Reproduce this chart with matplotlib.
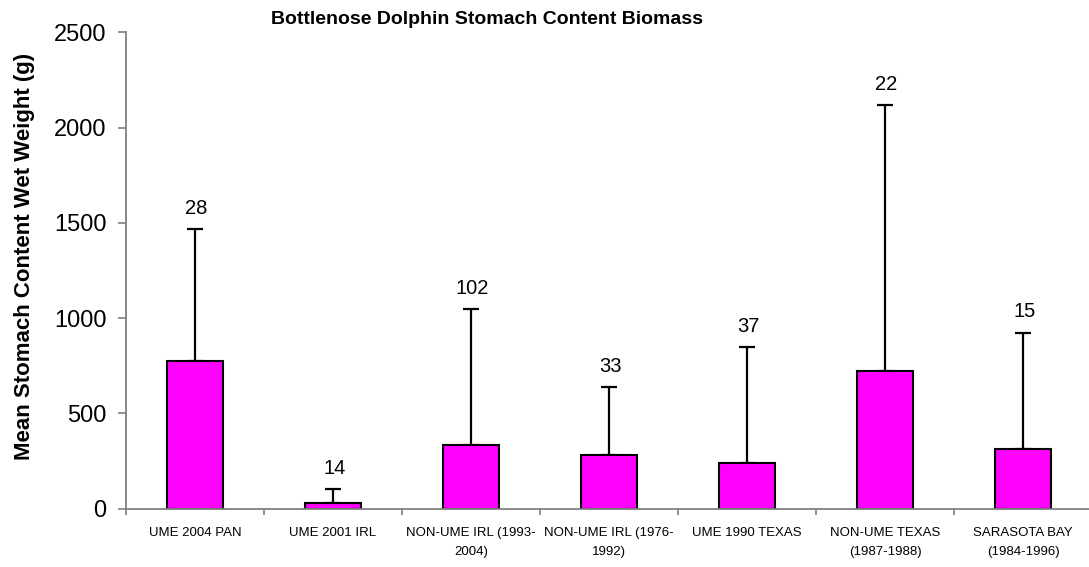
import matplotlib
matplotlib.use("Agg")
import matplotlib.pyplot as plt
import numpy as np

# Stomach content wet weight by dolphin group
categories = [
    "UME 2004 PAN",
    "UME 2001 IRL",
    "NON-UME IRL (1993-\n2004)",
    "NON-UME IRL (1976-\n1992)",
    "UME 1990 TEXAS",
    "NON-UME TEXAS\n(1987-1988)",
    "SARASOTA BAY\n(1984-1996)",
]
mean_weight = [774, 30, 335, 282, 240, 722, 312]
sd_weight = [693, 72, 712, 357, 609, 1398, 611]
sample_n = [28, 14, 102, 33, 37, 22, 15]
y_ticks = [0, 500, 1000, 1500, 2000, 2500]

plt.rcParams["font.family"] = ["Liberation Sans", "DejaVu Sans"]

W, H = 1089, 567
fig = plt.figure(figsize=(W / 100, H / 100), dpi=100)
ax = fig.add_axes([126 / W, 1 - 508.5 / H, 966 / W, 476 / H])

x = np.arange(len(categories))
ax.bar(x, mean_weight, width=0.41, color="#ff00ff", edgecolor="black",
       linewidth=1.5, zorder=2)
ax.errorbar(x, mean_weight, yerr=[np.zeros(len(x)), sd_weight], fmt="none",
            ecolor="black", elinewidth=1.6, capsize=5.5, capthick=1.6, zorder=1)

# sample size above each error bar
for xi, m, s, n in zip(x, mean_weight, sd_weight, sample_n):
    ax.annotate(str(n), (xi, m + s), xytext=(1, 15), textcoords="offset points",
                ha="center", va="center", fontsize=14.5)

ax.set_xlim(-0.5, len(categories) - 0.5)
ax.set_ylim(0, 2500)
ax.set_yticks(y_ticks)
ax.tick_params(axis="y", labelsize=17, length=6, width=1.2, color="#808080",
               direction="out", pad=8)

ax.set_xticks(x)
ax.set_xticklabels(categories, fontsize=9.5, linespacing=1.8)
ax.tick_params(axis="x", which="major", length=0, pad=13)
ax.set_xticks(np.arange(len(categories) + 1) - 0.5, minor=True)
ax.tick_params(axis="x", which="minor", length=4, width=1.2, color="#808080",
               direction="out")

for side in ("top", "right"):
    ax.spines[side].set_visible(False)
for side in ("left", "bottom"):
    ax.spines[side].set_color("#808080")
    ax.spines[side].set_linewidth(1.3)

fig.text(487 / W, 1 - 20 / H, "Bottlenose Dolphin Stomach Content Biomass",
         ha="center", va="center", fontsize=14, fontweight="bold")
fig.text(25 / W, 1 - 256 / H, "Mean Stomach Content Wet Weight (g)",
         ha="center", va="center", rotation=90, fontsize=16, fontweight="bold")

fig.savefig("out.png", dpi=100)
